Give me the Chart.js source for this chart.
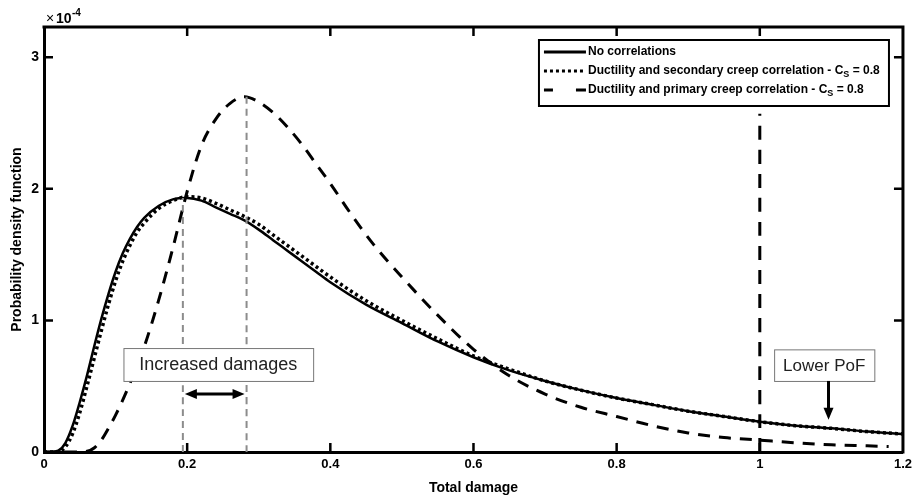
<!DOCTYPE html>
<html>
<head>
<meta charset="utf-8">
<script src="https://cdn.jsdelivr.net/npm/chart.js@4.4.1/dist/chart.umd.min.js"></script>
<style>
  html, body { margin: 0; padding: 0; background: #fff; }
</style>
</head>
<body>
<canvas id="pdfChart" width="917" height="500"></canvas>
<script>
// values, pdf in units of 1e-4
const damageX = [0, 0.01, 0.02, 0.03, 0.04, 0.05, 0.06, 0.07, 0.08, 0.09, 0.10, 0.11, 0.12, 0.13, 0.14, 0.16,
  0.18, 0.20, 0.22, 0.24, 0.26, 0.28, 0.30, 0.32, 0.34, 0.36, 0.38, 0.40, 0.45, 0.50, 0.55, 0.60, 0.65,
  0.70, 0.75, 0.80, 0.85, 0.90, 0.95, 1.00, 1.05, 1.10, 1.15, 1.20];
const pdfNoCorr = [0, 0, 0.01, 0.07, 0.20, 0.38, 0.58, 0.80, 1.01, 1.20, 1.37, 1.51, 1.62, 1.71, 1.78, 1.87,
  1.92, 1.93, 1.91, 1.86, 1.81, 1.76, 1.69, 1.61, 1.53, 1.45, 1.37, 1.29, 1.12, 0.98, 0.84, 0.72, 0.62,
  0.54, 0.47, 0.41, 0.36, 0.31, 0.27, 0.23, 0.20, 0.18, 0.155, 0.137];
const pdfSecondary = [0, 0, 0, 0.04, 0.14, 0.30, 0.50, 0.71, 0.92, 1.12, 1.30, 1.45, 1.57, 1.67, 1.74, 1.85,
  1.91, 1.94, 1.93, 1.89, 1.84, 1.79, 1.73, 1.65, 1.57, 1.49, 1.41, 1.33, 1.15, 1.00, 0.86, 0.73, 0.63,
  0.54, 0.47, 0.41, 0.36, 0.31, 0.27, 0.23, 0.20, 0.18, 0.155, 0.137];

const damageXPrimary = [0, 0.04, 0.06, 0.07, 0.08, 0.09, 0.10, 0.12, 0.14, 0.16, 0.18, 0.20, 0.22, 0.24, 0.26,
  0.28, 0.30, 0.32, 0.34, 0.36, 0.38, 0.40, 0.43, 0.46, 0.50, 0.55, 0.60, 0.65, 0.70, 0.75, 0.80, 0.85,
  0.90, 0.95, 1.00, 1.05, 1.10, 1.15, 1.18];
const pdfPrimary = [0, 0, 0.005, 0.03, 0.09, 0.18, 0.28, 0.52, 0.80, 1.15, 1.55, 1.98, 2.33, 2.53, 2.65,
  2.70, 2.66, 2.58, 2.47, 2.34, 2.19, 2.04, 1.80, 1.58, 1.33, 1.04, 0.78, 0.58, 0.44, 0.34, 0.27, 0.20,
  0.145, 0.11, 0.09, 0.07, 0.055, 0.047, 0.042];

// guide lines: peaks of the curves and the x = 1 failure line
const peakLineX = [0.194, 0.283];
const peakLineTop = [1.93, 2.70];
const failLineX = 1.0;
const failLineTop = 2.57;

const xTickValues = [0, 0.2, 0.4, 0.6, 0.8, 1.0, 1.2];
const yTickValues = [0, 1, 2, 3];
const legendLabels = [
  ['No correlations', '', ''],
  ['Ductility and secondary creep correlation - C', 'S', ' = 0.8'],
  ['Ductility and primary creep correlation - C', 'S', ' = 0.8']
];

const FONT = '"Liberation Sans", Arial, sans-serif';
const toPoints = (xs, ys) => xs.map((x, i) => ({ x: x, y: ys[i] }));

function vLine(x, top) {
  return [{ x: x, y: 0 }, { x: x, y: top }];
}

function arrowHead(ctx, x, y, dx, dy, len, half) {
  // tip at x,y pointing along dx,dy
  const px = -dy, py = dx;
  ctx.beginPath();
  ctx.moveTo(x, y);
  ctx.lineTo(x - dx * len + px * half, y - dy * len + py * half);
  ctx.lineTo(x - dx * len - px * half, y - dy * len - py * half);
  ctx.closePath();
  ctx.fill();
}

function textBox(ctx, text, size, left, top, right, bottom) {
  ctx.fillStyle = '#fff';
  ctx.fillRect(left, top, right - left, bottom - top);
  ctx.strokeStyle = '#777';
  ctx.lineWidth = 1;
  ctx.setLineDash([]);
  ctx.strokeRect(left + 0.5, top + 0.5, right - left, bottom - top);
  ctx.fillStyle = '#222';
  ctx.font = size + 'px ' + FONT;
  ctx.textAlign = 'center';
  ctx.textBaseline = 'middle';
  ctx.fillText(text, (left + right) / 2, (top + bottom) / 2 + 1);
}

const decorPlugin = {
  id: 'decor',
  afterDatasetsDraw(chart) {
    const ctx = chart.ctx;
    const xs = chart.scales.x, ys = chart.scales.y;
    const area = chart.chartArea;
    ctx.save();

    // frame top / right and inward ticks
    ctx.strokeStyle = '#000';
    ctx.lineWidth = 3;
    ctx.setLineDash([]);
    ctx.beginPath();
    ctx.moveTo(area.left - 1.5, area.top);
    ctx.lineTo(area.right, area.top);
    ctx.lineTo(area.right, area.bottom + 1.5);
    ctx.stroke();

    ctx.lineWidth = 2.5;
    ctx.beginPath();
    xTickValues.slice(1, -1).forEach(v => {
      const px = xs.getPixelForValue(v);
      ctx.moveTo(px, area.bottom); ctx.lineTo(px, area.bottom - 9);
      ctx.moveTo(px, area.top); ctx.lineTo(px, area.top + 9);
    });
    yTickValues.slice(1).forEach(v => {
      const py = ys.getPixelForValue(v);
      ctx.moveTo(area.left, py); ctx.lineTo(area.left + 9, py);
      ctx.moveTo(area.right, py); ctx.lineTo(area.right - 9, py);
    });
    ctx.stroke();

    // exponent label
    ctx.fillStyle = '#000';
    ctx.textAlign = 'left';
    ctx.textBaseline = 'middle';
    ctx.font = '14px ' + FONT;
    ctx.fillText('\u00d7', area.left + 2, area.top - 8);
    ctx.font = 'bold 14px ' + FONT;
    ctx.fillText('10', area.left + 12, area.top - 8);
    ctx.font = 'bold 10px ' + FONT;
    ctx.fillText('-4', area.left + 28, area.top - 14);

    // legend
    const lg = { left: area.right - 364, top: area.top + 13, right: area.right - 14, bottom: area.top + 79 };
    ctx.fillStyle = '#fff';
    ctx.fillRect(lg.left, lg.top, lg.right - lg.left, lg.bottom - lg.top);
    ctx.strokeStyle = '#000';
    ctx.lineWidth = 2;
    ctx.strokeRect(lg.left, lg.top, lg.right - lg.left, lg.bottom - lg.top);
    legendLabels.forEach((parts, i) => {
      const y = lg.top + 12 + i * 19;
      const x0 = lg.left + 5, x1 = lg.left + 47;
      ctx.strokeStyle = '#000';
      ctx.lineWidth = 3;
      if (i === 0) {
        ctx.setLineDash([]);
        ctx.beginPath(); ctx.moveTo(x0, y); ctx.lineTo(x1, y); ctx.stroke();
      } else if (i === 1) {
        ctx.setLineDash([3, 3]);
        ctx.beginPath(); ctx.moveTo(x0, y); ctx.lineTo(x1, y); ctx.stroke();
      } else {
        ctx.setLineDash([]);
        ctx.beginPath();
        ctx.moveTo(x0, y); ctx.lineTo(x0 + 9, y);
        ctx.moveTo(x1 - 10, y); ctx.lineTo(x1, y);
        ctx.stroke();
      }
      ctx.fillStyle = '#000';
      ctx.textAlign = 'left';
      ctx.textBaseline = 'middle';
      ctx.font = 'bold 12px ' + FONT;
      let tx = x1 + 2;
      ctx.fillText(parts[0], tx, y);
      tx += ctx.measureText(parts[0]).width;
      if (parts[1]) {
        ctx.font = 'bold 9px ' + FONT;
        ctx.fillText(parts[1], tx, y + 4);
        tx += ctx.measureText(parts[1]).width;
        ctx.font = 'bold 12px ' + FONT;
        ctx.fillText(parts[2], tx, y);
      }
    });

    // "Increased damages" box and double arrow
    textBox(ctx, 'Increased damages', 18,
      xs.getPixelForValue(0.111), ys.getPixelForValue(0.79),
      xs.getPixelForValue(0.376), ys.getPixelForValue(0.54));
    const ay = ys.getPixelForValue(0.44);
    const ax0 = xs.getPixelForValue(peakLineX[0]) + 2, ax1 = xs.getPixelForValue(peakLineX[1]) - 2;
    ctx.strokeStyle = '#000';
    ctx.fillStyle = '#000';
    ctx.lineWidth = 3;
    ctx.setLineDash([]);
    ctx.beginPath(); ctx.moveTo(ax0 + 8, ay); ctx.lineTo(ax1 - 8, ay); ctx.stroke();
    arrowHead(ctx, ax0, ay, -1, 0, 12, 5);
    arrowHead(ctx, ax1, ay, 1, 0, 12, 5);

    // "Lower PoF" box and arrow
    textBox(ctx, 'Lower PoF', 17,
      xs.getPixelForValue(1.02), ys.getPixelForValue(0.78),
      xs.getPixelForValue(1.16), ys.getPixelForValue(0.54));
    const bx = xs.getPixelForValue(1.096);
    const by0 = ys.getPixelForValue(0.54), by1 = ys.getPixelForValue(0.245);
    ctx.strokeStyle = '#000';
    ctx.fillStyle = '#000';
    ctx.lineWidth = 3;
    ctx.beginPath(); ctx.moveTo(bx, by0); ctx.lineTo(bx, by1 - 9); ctx.stroke();
    arrowHead(ctx, bx, by1, 0, 1, 12, 5);

    ctx.restore();
  }
};

const lineBase = { pointRadius: 0, fill: false, tension: 0.4, cubicInterpolationMode: 'monotone' };

new Chart(document.getElementById('pdfChart'), {
  type: 'line',
  data: {
    datasets: [
      Object.assign({ label: 'peak no corr', data: vLine(peakLineX[0], peakLineTop[0]),
        borderColor: '#8c8c8c', borderWidth: 2, borderDash: [7, 5] }, lineBase),
      Object.assign({ label: 'peak primary', data: vLine(peakLineX[1], peakLineTop[1]),
        borderColor: '#8c8c8c', borderWidth: 2, borderDash: [7, 5] }, lineBase),
      Object.assign({ label: 'failure', data: vLine(failLineX, failLineTop),
        borderColor: '#000', borderWidth: 3, borderDash: [14, 10] }, lineBase),
      Object.assign({ label: legendLabels[2].join(''), data: toPoints(damageXPrimary, pdfPrimary),
        borderColor: '#000', borderWidth: 3, borderDash: [12, 9] }, lineBase),
      Object.assign({ label: legendLabels[1].join(''), data: toPoints(damageX, pdfSecondary),
        borderColor: '#000', borderWidth: 3.5, borderDash: [3, 3] }, lineBase),
      Object.assign({ label: legendLabels[0][0], data: toPoints(damageX, pdfNoCorr),
        borderColor: '#000', borderWidth: 2.5 }, lineBase)
    ]
  },
  options: {
    responsive: false,
    animation: false,
    devicePixelRatio: 1,
    layout: { padding: { top: 27, right: 11, left: 0, bottom: 0 } },
    plugins: { legend: { display: false }, tooltip: { enabled: false } },
    scales: {
      x: {
        type: 'linear',
        min: 0,
        max: 1.2,
        afterFit(s) { s.height = 48; },
        afterBuildTicks(s) { s.ticks = xTickValues.map(v => ({ value: v })); },
        ticks: {
          callback: v => String(Number(v.toFixed(1))),
          font: { family: FONT, size: 13, weight: 'bold' },
          color: '#000',
          padding: 5,
          maxRotation: 0
        },
        grid: { display: false, drawTicks: false },
        border: { display: true, color: '#000', width: 3 },
        title: {
          display: true,
          text: 'Total damage',
          font: { family: FONT, size: 14, weight: 'bold' },
          color: '#000',
          padding: { top: 0, bottom: 3 }
        }
      },
      y: {
        min: 0,
        max: 3.23,
        afterFit(s) { s.width = 44; },
        afterBuildTicks(s) { s.ticks = yTickValues.map(v => ({ value: v })); },
        ticks: {
          font: { family: FONT, size: 14, weight: 'bold' },
          color: '#000',
          padding: 5
        },
        grid: { display: false, drawTicks: false },
        border: { display: true, color: '#000', width: 3 },
        title: {
          display: true,
          text: 'Probability density function',
          font: { family: FONT, size: 14, weight: 'bold' },
          color: '#000',
          padding: { top: 9, bottom: 0 }
        }
      }
    }
  },
  plugins: [decorPlugin]
});
</script>
</body>
</html>
